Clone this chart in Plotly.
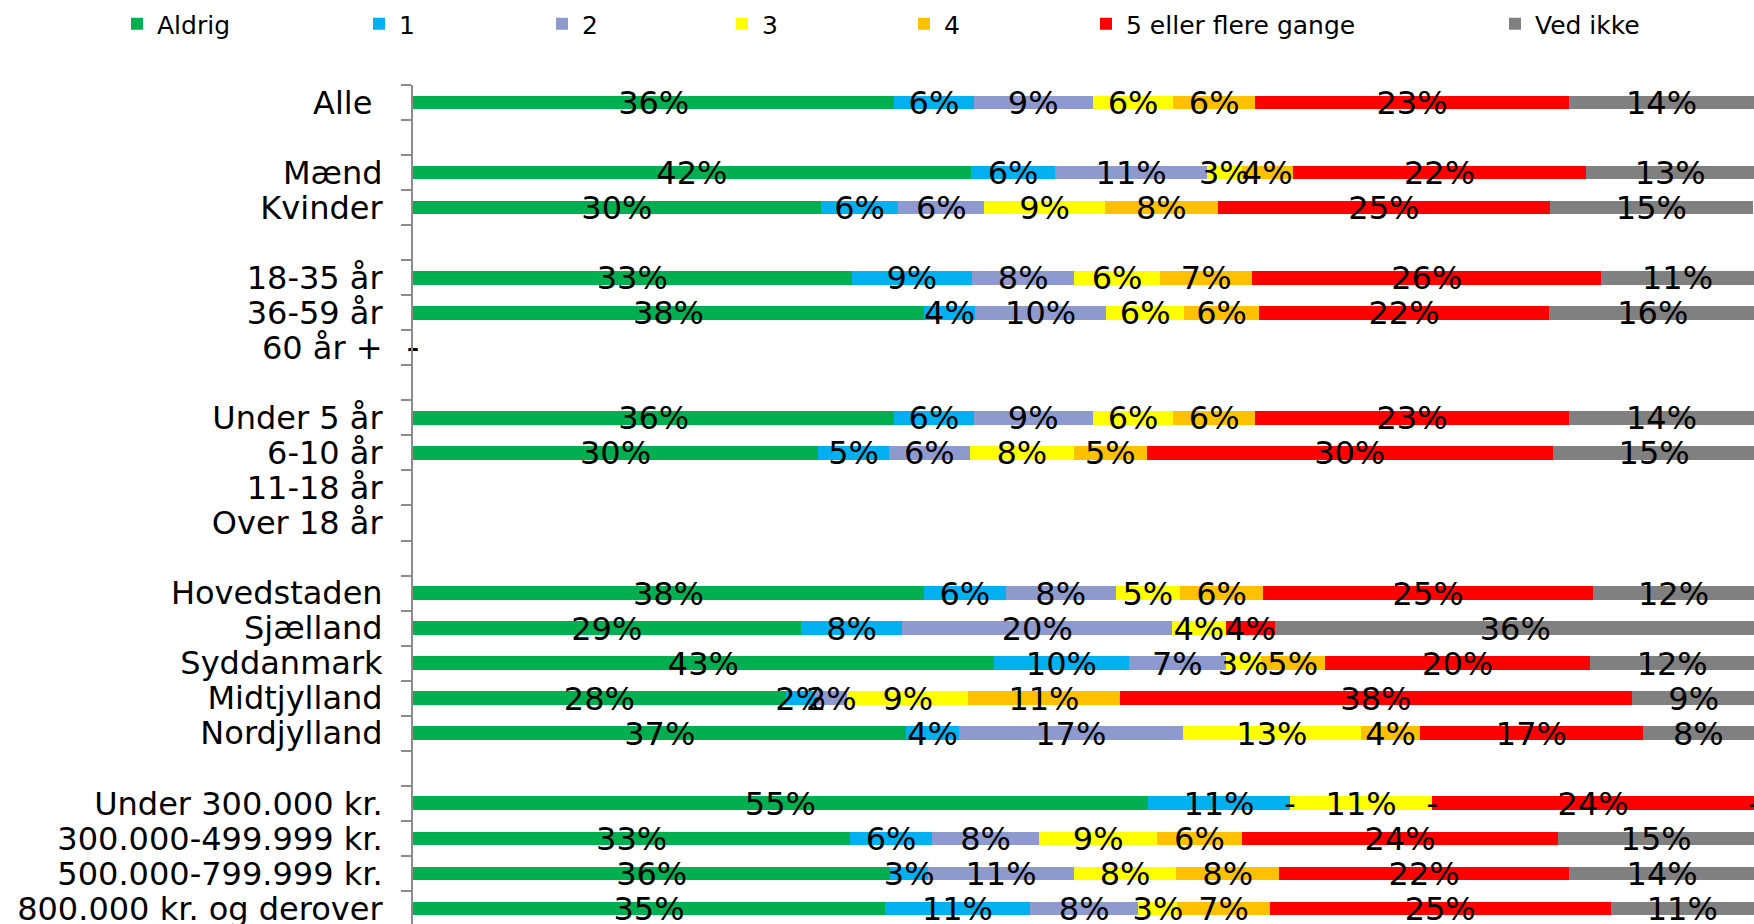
import plotly.graph_objects as go

# ---------------- data ----------------
categories = [
    "Alle\u00a0", "\u00a0", "Mænd", "Kvinder", "\u00a0\u00a0",
    "18-35 år", "36-59 år", "60 år +", "\u00a0\u00a0\u00a0",
    "Under 5 år", "6-10 år", "11-18 år", "Over 18 år", "\u00a0\u00a0\u00a0\u00a0",
    "Hovedstaden", "Sjælland", "Syddanmark", "Midtjylland", "Nordjylland",
    "\u00a0\u00a0\u00a0\u00a0\u00a0",
    "Under 300.000 kr.", "300.000-499.999 kr.", "500.000-799.999 kr.", "800.000 kr. og derover",
]

series_names = ["Aldrig", "1", "2", "3", "4", "5 eller flere gange", "Ved ikke"]
series_colors = ["#00B050", "#00B0F0", "#8E99CE", "#FFFF00", "#FFC000", "#FF0000", "#808080"]

N = None
aldrig = [35.9, N, 41.6, 30.4, N, 32.7, 38.1, 0, N, 35.9, 30.2, N, N, N, 38.1, 28.9, 43.3, 27.8, 36.8, N, 54.8, 32.6, 35.6, 35.2]
en     = [5.9,  N, 6.3,  5.8,  N, 9.0,  3.8,  0, N, 5.9,  5.3,  N, N, N, 6.1,  7.6,  10.1, 2.2,  3.9,  N, 10.6, 6.1,  2.8,  10.8]
to     = [8.9,  N, 11.3, 6.4,  N, 7.6,  9.8,  0, N, 8.9,  6.0,  N, N, N, 8.2,  20.1, 7.2,  2.4,  16.7, N, 0,    8.0,  10.9, 8.1]
tre    = [6.0,  N, 2.6,  9.0,  N, 6.4,  5.8,  0, N, 6.0,  7.8,  N, N, N, 4.8,  4.0,  2.6,  9.0,  13.3, N, 10.6, 8.8,  7.6,  2.9]
fire   = [6.1,  N, 3.8,  8.4,  N, 6.9,  5.6,  0, N, 6.1,  5.4,  N, N, N, 6.2,  N,    4.8,  11.3, 4.4,  N, 0,    6.3,  7.7,  6.9]
fem    = [23.4, N, 21.9, 24.8, N, 26.0, 21.6, 0, N, 23.4, 30.3, N, N, N, 24.6, 3.7,  19.8, 38.2, 16.6, N, 24.0, 23.6, 21.6, 25.4]
vedikke= [13.8, N, 12.5, 15.1, N, 11.4, 15.5, 0, N, 13.8, 15.1, N, N, N, 12.0, 35.8, 12.2, 9.2,  8.3,  N, 0,    14.6, 13.9, 10.7]

series_values = [aldrig, en, to, tre, fire, fem, vedikke]

FONT = "Verdana, DejaVu Sans, sans-serif"

fig = go.Figure()

# stacked bars
for i, (name, vals, col) in enumerate(zip(series_names, series_values, series_colors)):
    fig.add_trace(go.Bar(
        y=categories, x=[v if v is not None else 0 for v in vals],
        name=name, orientation="h",
        marker=dict(color=col, line=dict(width=0)),
        legend="legend" if i == 0 else f"legend{i+1}",
        hoverinfo="skip",
    ))

# data labels (centered on each segment, computed from the data)
lx, ly, lt = [], [], []
for r, cat in enumerate(categories):
    cum = 0.0
    for vals in series_values:
        v = vals[r]
        if v is None:
            continue
        lx.append(cum + v / 2)
        ly.append(cat)
        lt.append("-" if v == 0 else f"{int(v + 0.5)}%")
        cum += v
fig.add_trace(go.Scatter(
    x=lx, y=ly, text=lt, mode="text", textposition="middle center",
    textfont=dict(family=FONT, size=32, color="black"),
    showlegend=False, cliponaxis=False, hoverinfo="skip",
    yaxis="y2",
))

# legends (one per series so each can sit where the original has it)
text_starts = [158, 400, 583, 763, 945, 1127, 1536]
legend_layout = {}
for i, xs in enumerate(text_starts):
    key = "legend" if i == 0 else f"legend{i+1}"
    legend_layout[key] = dict(
        x=(xs - 41) / 1754, xref="container", xanchor="left",
        y=1 - 24 / 924, yref="container", yanchor="middle",
        orientation="h", bgcolor="rgba(0,0,0,0)",
        font=dict(family=FONT, size=25, color="black"),
        itemclick=False, itemdoubleclick=False,
    )

slot = 35.04
bottom = (924 - 85) / slot - 0.5
label_drop = 0.1  # labels sit slightly below the bar centre in the original

fig.update_layout(
    width=1754, height=924,
    margin=dict(l=413, r=0, t=85, b=0, pad=0, autoexpand=False),
    barmode="stack", bargap=0.61,
    plot_bgcolor="white", paper_bgcolor="white",
    font=dict(family=FONT, color="black"),
    yaxis2=dict(
        overlaying="y", type="category", categoryorder="array", categoryarray=categories,
        range=[bottom - label_drop, -0.5 - label_drop], visible=False, fixedrange=True,
    ),
    **legend_layout,
)
fig.update_xaxes(range=[0, 100], visible=False, fixedrange=True)
fig.update_layout(yaxis=dict(
    type="category", categoryorder="array", categoryarray=categories,
    range=[bottom, -0.5],
    tickmode="linear", tick0=0, dtick=1,
    showline=True, linecolor="#8C8C8C", linewidth=2,
    ticks="outside", tickson="boundaries", ticklen=10, tickcolor="#8C8C8C", tickwidth=2,
    tickfont=dict(family=FONT, size=32, color="black"),
    ticklabelstandoff=22,
    showgrid=False, zeroline=False, fixedrange=True,
))

fig.write_html(
    "out.html",
    config={"displayModeBar": False},
    post_script="document.body.style.margin='0';document.body.style.overflow='hidden';",
)
